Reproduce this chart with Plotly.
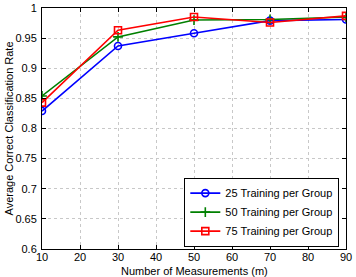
import plotly.graph_objects as go

x_vals = [10, 30, 50, 70, 90]
s25 = [0.829, 0.937, 0.958, 0.979, 0.981]
s50 = [0.854, 0.952, 0.980, 0.981, 0.985]
s75 = [0.843, 0.963, 0.985, 0.976, 0.987]
names = ["25 Training per Group", "50 Training per Group", "75 Training per Group"]
x_ticks = [10, 20, 30, 40, 50, 60, 70, 80, 90]
y_ticks = [0.6, 0.65, 0.7, 0.75, 0.8, 0.85, 0.9, 0.95, 1]
y_tick_text = ["0.6", "0.65", "0.7", "0.75", "0.8", "0.85", "0.9", "0.95", "1"]
x_title = "Number of Measurements (m)"
y_title = "Average Correct Classification Rate"

FONT = "Arial, Liberation Sans, Helvetica, sans-serif"

fig = go.Figure()
styles = [
    ("#0000ff", "circle-open"),
    ("#008000", "cross-thin-open"),
    ("#ff0000", "square-open"),
]
for ys, name, (c, sym) in zip([s25, s50, s75], names, styles):
    fig.add_trace(go.Scatter(
        x=x_vals, y=ys, name=name, mode="lines+markers",
        line=dict(color=c, width=1.6),
        marker=dict(symbol=sym, size=7, color=c, line=dict(color=c, width=1.6)),
    ))

axis_common = dict(
    showgrid=True, gridcolor="#c8c8c8", griddash="dot", gridwidth=1,
    showline=True, linecolor="black", linewidth=1, mirror="ticks",
    ticks="inside", ticklen=4, tickcolor="black", zeroline=False,
    automargin=False,
    tickfont=dict(family=FONT, size=11, color="black"),
)
fig.update_xaxes(range=[10, 90], tickvals=x_ticks, ticklabelstandoff=-2, **axis_common)
fig.update_yaxes(range=[0.6, 1], tickvals=y_ticks, ticktext=y_tick_text, ticklabelstandoff=2, **axis_common)

fig.add_annotation(text=x_title, xref="paper", yref="paper", x=0.5, y=0,
                   yshift=-14, xanchor="center", yanchor="top", showarrow=False,
                   font=dict(family=FONT, size=11, color="black"))
fig.add_annotation(text=y_title, xref="paper", yref="paper", x=0, y=0.5,
                   xshift=-34, xanchor="center", yanchor="middle", textangle=-90,
                   showarrow=False, font=dict(family=FONT, size=11, color="black"))

fig.update_layout(
    width=356, height=277,
    margin=dict(l=42, r=10, t=8, b=28),
    paper_bgcolor="white", plot_bgcolor="white",
    legend=dict(x=0.978, y=0.01, xanchor="right", yanchor="bottom",
                bgcolor="white", bordercolor="black", borderwidth=1,
                font=dict(family=FONT, size=11, color="black"),
                tracegroupgap=0, itemwidth=30),
    showlegend=True,
)
fig.write_html("out.html", config={"displayModeBar": False},
               post_script="document.body.style.margin='0';")
